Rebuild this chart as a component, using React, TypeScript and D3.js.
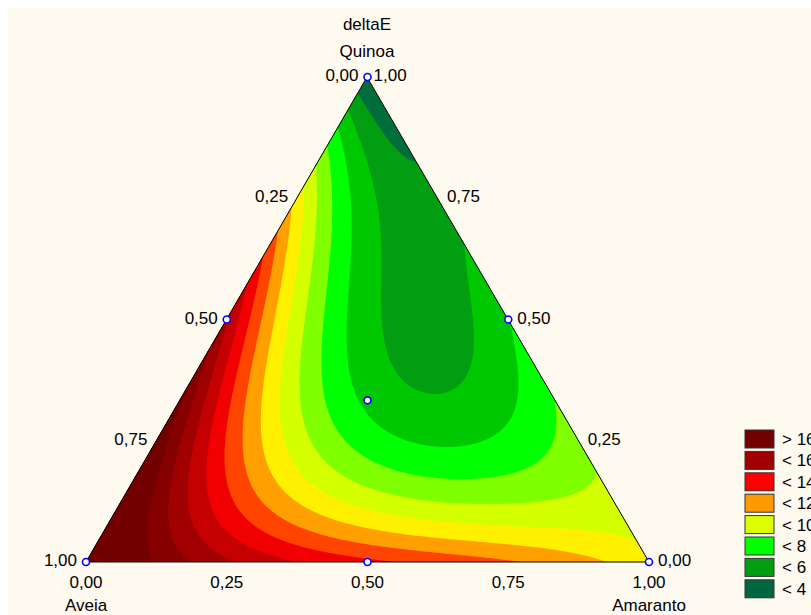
import * as d3 from "d3";

// mixture components: top, bottom-left, bottom-right
const components = ["Quinoa", "Aveia", "Amaranto"];

// simplex-centroid design points (shown as markers)
const designQuinoa = [1, 0, 0, 0.5, 0.5, 0, 1 / 3];
const designAveia = [0, 1, 0, 0.5, 0, 0.5, 1 / 3];
const designAmaranto = [0, 0, 1, 0, 0.5, 0.5, 1 / 3];

// deltaE: the design points first, then extra check points
const readQuinoa = [...designQuinoa, 0.75, 0.25, 0.75, 0.25, 0, 0, 0.5, 0.5];
const readAveia = [...designAveia, 0.25, 0.75, 0, 0, 0.75, 0.25, 0.35, 0.2];
const readAmaranto = [...designAmaranto, 0, 0, 0.25, 0.75, 0.25, 0.75, 0.15, 0.3];
const readDeltaE = [3.0, 18.5, 9.3, 14, 6, 12.5, 5.6, 9.5, 17, 4.4, 7.6, 14, 11, 8.1, 4.6];

// contour levels and band colours (one more band than levels)
const levels = [4, 5, 6, 7, 8, 9, 10, 11, 12, 13, 14, 15, 16];
const bandColors = [
  "#006e3a", "#009e10", "#00c800", "#00ff00", "#80ff00", "#d4ff00", "#fff000",
  "#ffa000", "#ff4400", "#f00000", "#c40000", "#a00000", "#860000", "#720000",
];

const legendLabels = ["> 16", "< 16", "< 14", "< 12", "< 10", "< 8", "< 6", "< 4"];
const legendColors = ["#720000", "#a00000", "#ff0000", "#ff9900", "#dcff00", "#00ff00", "#009e10", "#006640"];

const ticks = [0, 0.25, 0.5, 0.75, 1];
const tickText = (v: number) => d3.format(".2f")(v).replace(".", ",");

// full cubic Scheffe model, least squares
const terms = (q: number, a: number, m: number) => [
  q, a, m,
  q * a, q * m, a * m,
  q * a * (q - a), q * m * (q - m), a * m * (a - m),
  q * a * m,
];

function fit() {
  const X = readQuinoa.map((q, i) => terms(q, readAveia[i], readAmaranto[i]));
  const p = X[0].length;
  const M = d3.range(p).map((r) =>
    d3.range(p + 1).map((c) =>
      c < p ? d3.sum(X, (row) => row[r] * row[c]) : d3.sum(X, (row, i) => row[r] * readDeltaE[i])
    )
  );
  for (let c = 0; c < p; c++) {
    let piv = c;
    for (let r = c + 1; r < p; r++) if (Math.abs(M[r][c]) > Math.abs(M[piv][c])) piv = r;
    [M[c], M[piv]] = [M[piv], M[c]];
    for (let r = 0; r < p; r++) {
      if (r === c) continue;
      const f = M[r][c] / M[c][c];
      for (let k = c; k <= p; k++) M[r][k] -= f * M[c][k];
    }
  }
  return M.map((row, i) => row[p] / row[i]);
}

const width = 811;
const height = 615;
const font = "'Liberation Sans', Arial, sans-serif";

export default function App() {
  const top = { x: 367, y: 77 };
  const left = { x: 86, y: 562 };
  const right = { x: 649, y: 562 };

  const coef = fit();
  const model = (q: number, a: number, m: number) => d3.sum(terms(q, a, m), (t, i) => t * coef[i]);

  const toXY = (q: number, a: number, m: number) => ({
    x: left.x + (m + q / 2) * (right.x - left.x),
    y: left.y - q * (left.y - top.y),
  });

  // sample the model on a pixel grid covering the triangle
  const step = 2;
  const x0 = left.x - 6;
  const y0 = top.y - 6;
  const nx = Math.ceil((right.x - left.x + 12) / step) + 1;
  const ny = Math.ceil((left.y - top.y + 12) / step) + 1;
  const values = new Array(nx * ny);
  for (let j = 0; j < ny; j++) {
    for (let i = 0; i < nx; i++) {
      const px = x0 + i * step;
      const py = y0 + j * step;
      const q = (left.y - py) / (left.y - top.y);
      const m = (px - left.x) / (right.x - left.x) - q / 2;
      values[j * nx + i] = model(q, 1 - q - m, m);
    }
  }
  const contours = d3.contours().size([nx, ny]).thresholds(levels)(values);
  const path = d3.geoPath(
    d3.geoTransform({
      point(x, y) {
        this.stream.point(x0 + (x - 0.5) * step, y0 + (y - 0.5) * step);
      },
    })
  );

  const tri = `M${top.x},${top.y}L${left.x},${left.y}L${right.x},${right.y}Z`;

  return (
    <svg width={width} height={height} style={{ position: "absolute", left: 0, top: 0, background: "white" }} fontFamily={font}>
      <defs>
        <clipPath id="tri">
          <path d={tri} />
        </clipPath>
      </defs>
      {/* chart area sits inside the page margin */}
      <rect x={8} y={8} width={width - 8} height={height - 8} fill="#fffaf0" />

      <g clipPath="url(#tri)">
        <path d={tri} fill={bandColors[0]} />
        {contours.map((c, i) => (
          <path key={c.value} d={path(c) || ""} fill={bandColors[i + 1]} />
        ))}
      </g>
      <path d={tri} fill="none" stroke="black" strokeWidth={1} />

      {/* left edge: Aveia */}
      {ticks.map((t) => {
        const p = toXY(1 - t, t, 0);
        return (
          <text key={"l" + t} x={p.x - 9} y={p.y + 4} textAnchor="end" fontSize={17}>
            {tickText(t)}
          </text>
        );
      })}
      {/* right edge: Quinoa */}
      {ticks.map((t) => {
        const p = toXY(t, 0, 1 - t);
        return (
          <text key={"r" + t} x={p.x + (t === 1 ? 6 : 9)} y={p.y + 4} fontSize={17}>
            {tickText(t)}
          </text>
        );
      })}
      {/* bottom edge: Amaranto */}
      {ticks.map((t) => {
        const p = toXY(0, 1 - t, t);
        return (
          <text key={"b" + t} x={p.x} y={p.y + 26} textAnchor="middle" fontSize={17}>
            {tickText(t)}
          </text>
        );
      })}

      <text x={top.x} y={30} textAnchor="middle" fontSize={17}>deltaE</text>
      <text x={top.x} y={57} textAnchor="middle" fontSize={17}>{components[0]}</text>
      <text x={left.x} y={611} textAnchor="middle" fontSize={17}>{components[1]}</text>
      <text x={right.x} y={611} textAnchor="middle" fontSize={17}>{components[2]}</text>

      {designQuinoa.map((q, i) => {
        const p = toXY(q, designAveia[i], designAmaranto[i]);
        return <circle key={i} cx={p.x} cy={p.y} r={3.5} fill="white" stroke="#0000ff" strokeWidth={1.6} />;
      })}

      {legendLabels.map((l, i) => (
        <g key={l} transform={`translate(745, ${430 + i * 21.4})`}>
          <rect width={29} height={18} fill={legendColors[i]} stroke="#333" strokeWidth={1} />
          <text x={37} y={15} fontSize={17}>{l}</text>
        </g>
      ))}
    </svg>
  );
}
